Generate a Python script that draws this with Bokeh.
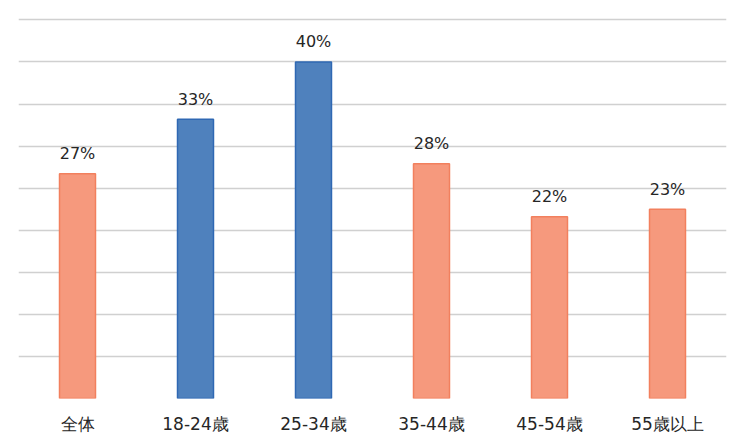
from bokeh.plotting import figure
from bokeh.models import ColumnDataSource, FixedTicker
from bokeh.core.properties import value
from bokeh.embed import file_html
from bokeh.resources import INLINE

categories = ["全体", "18-24歳", "25-34歳", "35-44歳", "45-54歳", "55歳以上"]
values = [26.7, 33.2, 40.0, 27.9, 21.6, 22.5]
labels = ["27%", "33%", "40%", "28%", "22%", "23%"]
highlight = [False, True, True, False, False, False]
grid_ticks = [0, 5, 10, 15, 20, 25, 30, 35, 40, 45]

fills = ["#4F81BD" if h else "#F6997D" for h in highlight]
lines = ["#2F68B3" if h else "#F2805E" for h in highlight]

src = ColumnDataSource(dict(cat=categories, val=values, lab=labels, fill=fills, line=lines))

p = figure(x_range=categories, y_range=(0, 46), width=748, height=448,
           output_backend="svg", toolbar_location=None,
           min_border_left=18, min_border_right=22, min_border_top=11, min_border_bottom=50)
p.outline_line_color = None
p.background_fill_color = "white"
p.border_fill_color = "white"

p.yaxis.visible = False
p.ygrid.ticker = FixedTicker(ticks=grid_ticks)
p.ygrid.grid_line_color = "#D0D0D0"
p.ygrid.grid_line_width = 1.5
p.xgrid.grid_line_color = None

p.xaxis.axis_line_color = None
p.xaxis.major_tick_line_color = None
p.xaxis.minor_tick_line_color = None
p.xaxis.major_label_standoff = 9
p.xaxis.major_label_text_font = "DejaVu Sans"
p.xaxis.major_label_text_font_size = "17px"
p.xaxis.major_label_text_color = "#262626"

p.vbar(x="cat", top="val", width=0.305, source=src, fill_color="fill",
       line_color="line", line_width=1.5)

p.text(x="cat", y="val", text="lab", source=src, text_align="center",
       text_baseline="alphabetic", y_offset=-20, text_font=value("DejaVu Sans"),
       text_font_size="16px", text_color="#262626")

open("out.html", "w").write(file_html(p, INLINE))
